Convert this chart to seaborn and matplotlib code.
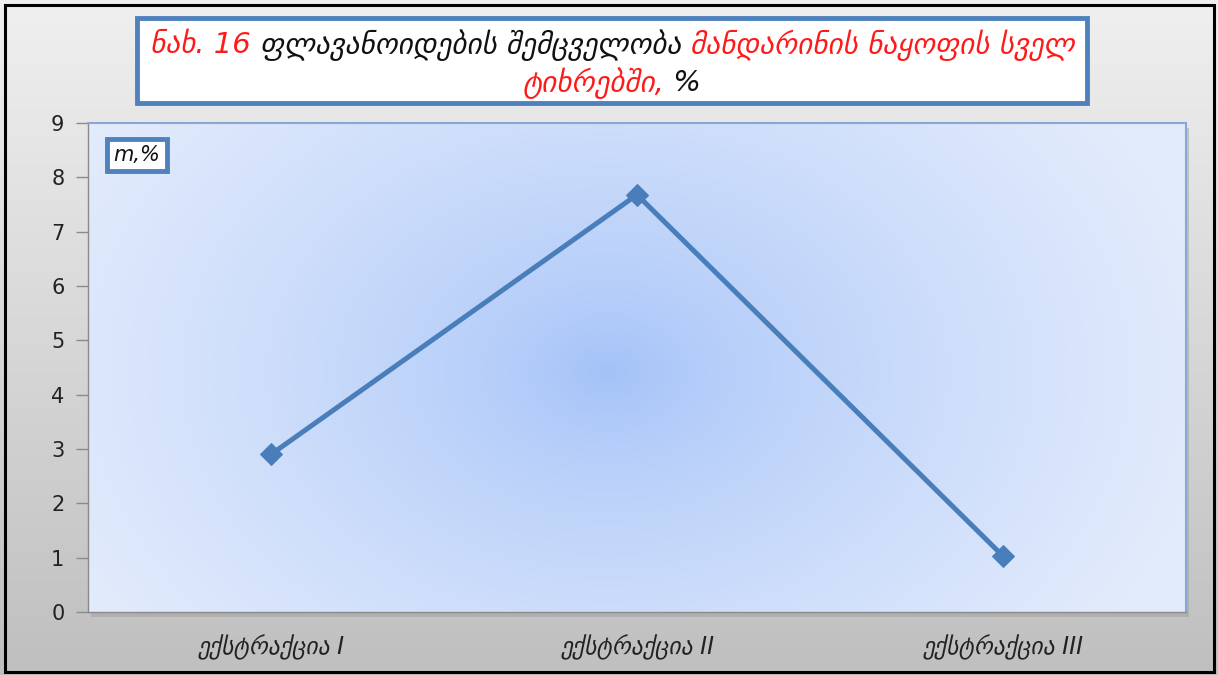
import numpy as np
import matplotlib
matplotlib.use("Agg")
import matplotlib.pyplot as plt
import seaborn as sns
from matplotlib.patches import Rectangle

# Data
categories = ["ექსტრაქცია I", "ექსტრაქცია II", "ექსტრაქცია III"]
values = [2.9, 7.68, 1.03]
y_ticks = list(range(0, 10))

title_line1 = [("ნახ. 16 ", "#ff1a1a"),
               ("ფლავანოიდების შემცველობა ", "#111111"),
               ("მანდარინის ნაყოფის სველ", "#ff1a1a")]
title_line2 = [("ტიხრებში,", "#ff1a1a"), (" %", "#111111")]
unit_label = "m,%"

W, H = 1218, 675
LINE_BLUE = "#4a7ebb"
BOX_BLUE = "#4f81bd"

sns.set_style("white")
plt.rcParams["font.family"] = ["DejaVu Sans"]


def fx(px):
    return px / W


def fy(py):
    return 1 - py / H


fig = plt.figure(figsize=(W / 100, H / 100), dpi=100)

# Grey vertical gradient background
bg = fig.add_axes([0, 0, 1, 1], zorder=-10)
grad = np.linspace(0, 1, 256).reshape(-1, 1)
top = np.array([0.94, 0.94, 0.94])
bot = np.array([0.75, 0.75, 0.75])
img = top + (bot - top) * grad[..., None]
bg.imshow(img, extent=[0, 1, 0, 1], aspect="auto")
bg.set_xlim(0, 1)
bg.set_ylim(0, 1)
bg.axis("off")

# outer frame
fig.patches.append(Rectangle((fx(5), fy(672)), fx(1209), 667 / H, transform=fig.transFigure,
                             fill=False, edgecolor="black", lw=2.2, zorder=5))

# plot area shadow
fig.patches.append(Rectangle((fx(91), fy(617)), fx(1098), 489 / H, transform=fig.transFigure,
                             facecolor="#9a9a9a", alpha=0.45, edgecolor="none", zorder=-5))

# Main axes
ax = fig.add_axes([fx(88), fy(612), fx(1098), 489 / H])

# radial blue gradient
nx, ny = 400, 200
xx, yy = np.meshgrid(np.linspace(0, 1098, nx), np.linspace(0, 489, ny))
d = np.sqrt(((xx - 520) / 600) ** 2 + ((yy - 240) / 440) ** 2)
t = np.clip(d, 0, 1) ** 0.7
centre = np.array([0xa2, 0xc1, 0xf8]) / 255
edge = np.array([0xe2, 0xeb, 0xfc]) / 255
rad = centre + (edge - centre) * t[..., None]
ax.imshow(rad, extent=[-0.5, 2.5, 9, 0], aspect="auto", zorder=0)

sns.lineplot(x=categories, y=values, ax=ax, color=LINE_BLUE, lw=3.6, marker="D",
             markersize=11, markeredgecolor=LINE_BLUE, sort=False, zorder=3)

ax.set_xlim(-0.5, 2.5)
ax.set_ylim(0, 9)
ax.set_yticks(y_ticks)
ax.set_yticklabels([str(v) for v in y_ticks], fontsize=15, color="#222222")
ax.set_xticks(range(len(categories)))
ax.set_xticklabels(categories, fontsize=17, style="italic", color="#222222")
ax.set_xticks([-0.5, 0.5, 1.5, 2.5], minor=True)
ax.tick_params(axis="x", which="major", length=0, pad=16)
ax.tick_params(axis="x", which="minor", length=8, color="#8a8a8a", width=1)
ax.tick_params(axis="y", length=9, color="#8a8a8a", width=1, pad=8, left=True)
ax.set_xlabel("")
ax.set_ylabel("")
for s in ["left", "bottom"]:
    ax.spines[s].set_color("#8a8a8a")
    ax.spines[s].set_linewidth(1)
for s in ["top", "right"]:
    ax.spines[s].set_color("#88a6d6")
    ax.spines[s].set_linewidth(1.5)

# unit label box
fig.text(fx(137), fy(155), unit_label, fontsize=15, style="italic", ha="center", va="center",
         color="#111111",
         bbox=dict(boxstyle="square,pad=0.3", facecolor="white", edgecolor=BOX_BLUE, lw=3.5))

# Title box
fig.patches.append(Rectangle((fx(137), fy(103)), fx(950), 85 / H, transform=fig.transFigure,
                             facecolor="white", edgecolor=BOX_BLUE, lw=3.5, zorder=4))


def colour_line(parts, y_px, size):
    renderer = fig.canvas.get_renderer()
    full = "".join(p for p, _ in parts)
    probe = fig.text(0, 0, full, fontsize=size, style="italic")
    total = probe.get_window_extent(renderer).width
    probe.remove()
    x0 = 612 - total / 2
    prefix = ""
    for s, c in parts:
        if prefix:
            p = fig.text(0, 0, prefix + "|", fontsize=size, style="italic")
            bar = fig.text(0, 0, "|", fontsize=size, style="italic")
            off = p.get_window_extent(renderer).width - bar.get_window_extent(renderer).width
            p.remove()
            bar.remove()
        else:
            off = 0
        fig.text(fx(x0 + off), fy(y_px), s, fontsize=size, style="italic", color=c,
                 ha="left", va="center", zorder=6)
        prefix += s


colour_line(title_line1, 45, 21)
colour_line(title_line2, 83, 21)

fig.savefig("out.png", dpi=100)
